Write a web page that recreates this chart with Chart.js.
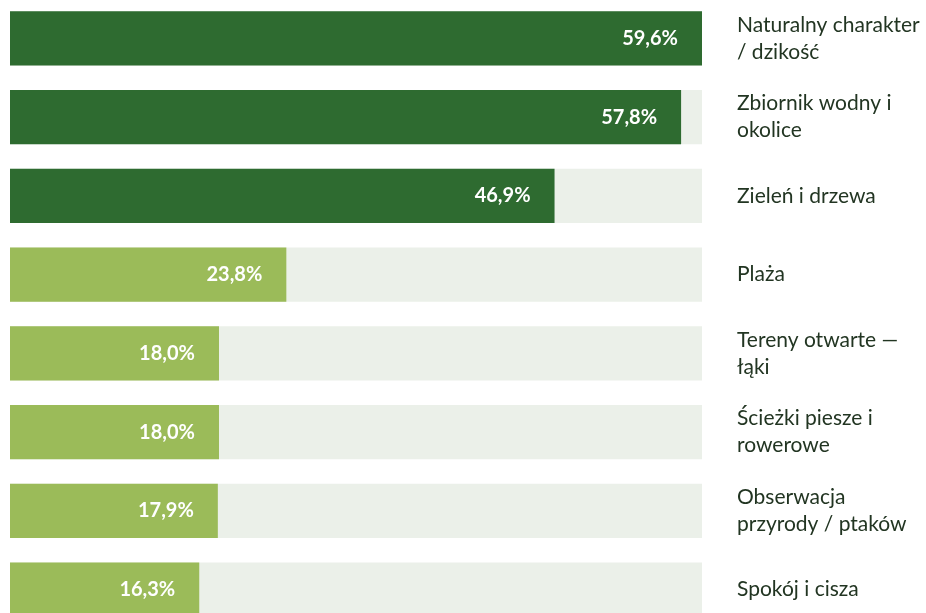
<!DOCTYPE html>
<html>
<head>
<meta charset="utf-8">
<script src="https://cdn.jsdelivr.net/npm/chart.js@4/dist/chart.umd.min.js"></script>
<style>
  html, body { margin: 0; padding: 0; background: #fff; overflow: hidden; }
  #wrap { position: absolute; left: 0; top: -1px; width: 926px; height: 630px; }
</style>
</head>
<body>
<div id="wrap"><canvas id="chart"></canvas></div>
<script>
// categories (multi-line labels) and shares in %
const categories = [
  ["Naturalny charakter", "/ dzikość"],
  ["Zbiornik wodny i", "okolice"],
  ["Zieleń i drzewa"],
  ["Plaża"],
  ["Tereny otwarte —", "łąki"],
  ["Ścieżki piesze i", "rowerowe"],
  ["Obserwacja", "przyrody / ptaków"],
  ["Spokój i cisza"]
];
const values = [59.6, 57.8, 46.9, 23.8, 18.0, 18.0, 17.9, 16.3];
const topGroup = [true, true, true, false, false, false, false, false];

const darkGreen = "#2e6b30";
const lightGreen = "#9bbb59";
const trackColor = "#ebf0e9";
const textColor = "#223522";

const maxValue = Math.max(...values);

// category labels on the right side of the bars
const sideLabels = {
  id: "sideLabels",
  afterDraw(chart) {
    const ctx = chart.ctx;
    const y = chart.scales.y;
    const x0 = chart.chartArea.right + 35;
    ctx.save();
    ctx.font = "21px Lato";
    ctx.fillStyle = textColor;
    ctx.textAlign = "left";
    ctx.textBaseline = "middle";
    categories.forEach((lines, i) => {
      const cy = y.getPixelForValue(i);
      const lh = 27;
      const start = cy - (lines.length - 1) * lh / 2;
      lines.forEach((t, k) => ctx.fillText(t, x0, start + k * lh));
    });
    ctx.restore();
  }
};

// value labels inside the bars
const valueLabels = {
  id: "valueLabels",
  afterDatasetsDraw(chart) {
    const ctx = chart.ctx;
    const meta = chart.getDatasetMeta(0);
    ctx.save();
    ctx.font = "bold 20px Lato";
    ctx.fillStyle = "#ffffff";
    ctx.textAlign = "right";
    ctx.textBaseline = "middle";
    meta.data.forEach((bar, i) => {
      ctx.fillText(values[i].toFixed(1).replace(".", ",") + "%", bar.x - 24, bar.y);
    });
    ctx.restore();
  }
};

new Chart(document.getElementById("chart"), {
  type: "bar",
  data: {
    labels: categories.map(c => c.join(" ")),
    datasets: [
      {
        data: values,
        backgroundColor: topGroup.map(t => t ? darkGreen : lightGreen),
        grouped: false,
        order: 0,
        barPercentage: 0.686,
        categoryPercentage: 1
      },
      {
        data: values.map(() => maxValue),
        backgroundColor: trackColor,
        grouped: false,
        order: 1,
        barPercentage: 0.686,
        categoryPercentage: 1
      }
    ]
  },
  options: {
    indexAxis: "y",
    responsive: true,
    maintainAspectRatio: false,
    animation: false,
    layout: { padding: { left: 10, right: 224, top: 0, bottom: 0 } },
    plugins: { legend: { display: false }, tooltip: { enabled: false } },
    scales: {
      x: { display: false, min: 0, max: maxValue },
      y: { display: false }
    }
  },
  plugins: [sideLabels, valueLabels]
});
</script>
</body>
</html>
